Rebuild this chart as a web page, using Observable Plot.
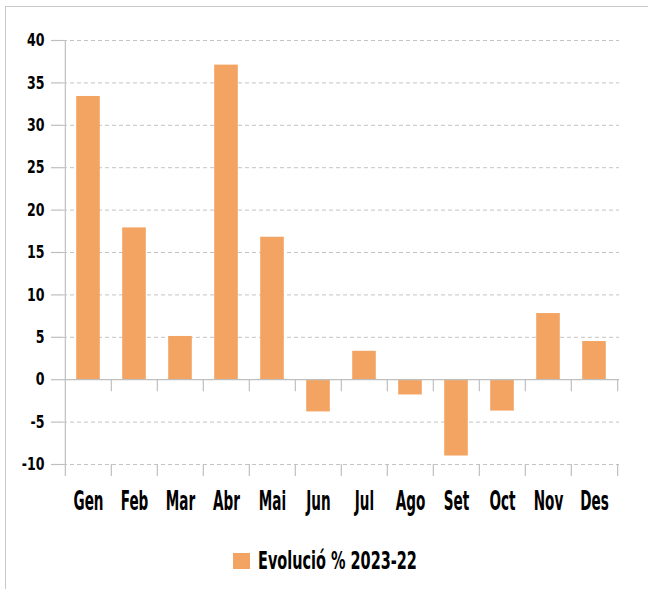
<!DOCTYPE html>
<html>
<head>
<meta charset="utf-8">
<script src="https://cdn.jsdelivr.net/npm/d3@7"></script>
<script src="https://cdn.jsdelivr.net/npm/@observablehq/plot@0.6"></script>
<style>
  html, body { margin: 0; padding: 0; background: #fff; }
  #wrap { position: relative; width: 648px; height: 589px; overflow: hidden; font-family: "DejaVu Sans Condensed", "Liberation Sans Narrow", sans-serif; font-weight: bold; }
  #frame { position: absolute; left: 5px; top: 6px; width: 700px; height: 700px; border-left: 1.5px solid #c8c8c8; border-top: 1.5px solid #c8c8c8; box-sizing: border-box; }
  #chart { position: absolute; left: 0; top: 0; }
  #legend { position: absolute; left: 233px; top: 549px; height: 24px; display: flex; align-items: center; white-space: nowrap; }
  #legend .sw { width: 17px; height: 16px; background: #f4a462; margin-right: 8px; }
  #legend .lb { font-size: 24px; color: #000; display: inline-block; transform: scaleX(0.67); transform-origin: left center; }
</style>
</head>
<body>
<div id="wrap">
  <div id="frame"></div>
  <div id="chart"></div>
  <div id="legend"><div class="sw"></div><span class="lb">Evolució % 2023-22</span></div>
</div>
<script>
const months = ["Gen","Feb","Mar","Abr","Mai","Jun","Jul","Ago","Set","Oct","Nov","Des"];
const values = [33.4, 17.9, 5.1, 37.1, 16.8, -3.8, 3.35, -1.8, -9.0, -3.7, 7.8, 4.5];
const yTicks = [-10, -5, 0, 5, 10, 15, 20, 25, 30, 35, 40];
const seriesName = "Evolució % 2023-22";

const data = months.map((m, i) => ({month: m, value: values[i]}));

const W = 648, H = 530, ML = 63, MR = 29, MT = 40, MB = 66;
const bw = (W - ML - MR) / months.length;
const barColor = "#f4a462";
const axisGray = "#bfbfbf";

const chart = Plot.plot({
  width: W,
  height: H,
  marginLeft: ML,
  marginRight: MR,
  marginTop: MT,
  marginBottom: MB,
  style: {fontFamily: "'DejaVu Sans Condensed', 'Liberation Sans Narrow', sans-serif", fontWeight: "bold", background: "transparent", overflow: "visible"},
  x: {type: "band", domain: months, padding: 0, label: null},
  y: {domain: [-10, 40], label: null},
  marks: [
    Plot.gridY(yTicks.filter(t => t !== 0), {stroke: "#c4c4c4", strokeOpacity: 1, strokeDasharray: "4,3", strokeWidth: 1}),
    Plot.barY(data, {x: "month", y: "value", fill: barColor, insetLeft: 11.2, insetRight: 11.2}),
    Plot.ruleY([0], {stroke: axisGray, strokeWidth: 1.2}),
    // vertical axis line
    Plot.ruleX([months[0]], {x: d => d, dx: -bw / 2, y1: 40, y2: -10, insetBottom: -12, stroke: axisGray, strokeWidth: 1.2}),
    // category boundary ticks at zero line and at bottom
    Plot.ruleX(months.slice(1), {x: d => d, dx: -bw / 2, y1: 0, y2: 0, insetBottom: -12, stroke: axisGray, strokeWidth: 1.2}),
    Plot.ruleX(months.slice(1), {x: d => d, dx: -bw / 2, y1: -10, y2: -10, insetBottom: -12, stroke: axisGray, strokeWidth: 1.2}),
    Plot.ruleX([months[months.length - 1]], {x: d => d, dx: bw / 2, y1: 0, y2: 0, insetBottom: -12, stroke: axisGray, strokeWidth: 1.2}),
    Plot.ruleX([months[months.length - 1]], {x: d => d, dx: bw / 2, y1: -10, y2: -10, insetBottom: -12, stroke: axisGray, strokeWidth: 1.2}),
    Plot.axisY(yTicks, {tickSize: 12, tickPadding: 7, stroke: axisGray, strokeWidth: 1.2, fill: "#000", fontSize: 17.5, label: null, tickFormat: d => String(d)}),
    Plot.axisX({tickSize: 0, tickPadding: 27, fill: "#000", fontSize: 26, label: null})
  ]
});

document.getElementById("chart").appendChild(chart);

// condense tick labels horizontally (reference uses a very condensed typeface)
function condense(selector, sx) {
  chart.querySelectorAll(selector).forEach(t => {
    const tr = t.getAttribute("transform") || "";
    t.setAttribute("transform", tr + ` scale(${sx},1)`);
  });
}
condense("g[aria-label='x-axis tick label'] text", 0.58);
condense("g[aria-label='y-axis tick label'] text", 0.8);
</script>
</body>
</html>
